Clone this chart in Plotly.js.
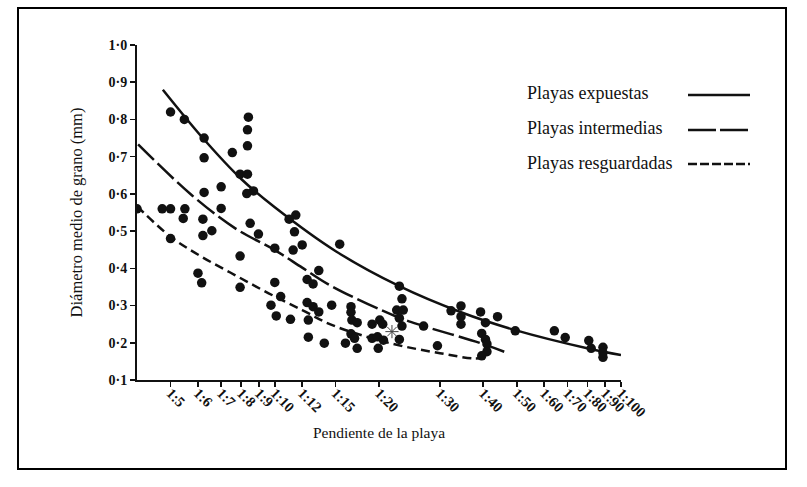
<!DOCTYPE html>
<html>
<head>
<meta charset="utf-8">
<script src="https://cdn.plot.ly/plotly-3.0.1.min.js"></script>
<style>html,body{margin:0;padding:0;background:#fff;}#chart{width:807px;height:487px;}</style>
</head>
<body>
<div id="chart"></div>
<script>
// Beach slope (1:x) vs mean grain diameter (mm)
const pointsX = [4.0, 4.73, 5.0, 5.0, 5.0, 5.48, 5.5, 5.44, 6.0, 6.15, 6.2, 6.2, 6.25, 6.25, 6.25, 6.58, 7.0, 7.0, 7.54, 7.94,
  8.34, 8.39, 8.34, 8.34, 8.3, 8.68, 7.94, 7.94, 8.49, 8.97, 10.0, 10.0, 10.4, 9.75, 10.1, 11.1, 11.5, 11.0, 11.4, 11.3,
  12.0, 12.4, 12.9, 13.4, 12.4, 12.9, 12.5, 13.4, 12.5, 13.9, 14.6, 15.4, 16.6, 16.6, 16.7, 17.3, 16.6, 17.0, 16.0, 17.3,
  19.1, 20.1, 20.5, 19.1, 19.8, 19.9, 20.6, 22.9, 23.3, 22.5, 23.5, 22.9, 23.3, 22.9, 26.9, 29.5, 32.3, 34.5, 34.5, 34.5,
  39.3, 40.6, 44, 39.6, 40.6, 41, 41, 39.6, 49.5, 64.2, 69, 80.7, 82, 88.7, 88.7, 88.7];
const pointsY = [0.56, 0.56, 0.56, 0.82, 0.48, 0.80, 0.56, 0.534, 0.387, 0.361, 0.532, 0.488, 0.75, 0.697, 0.604, 0.501, 0.619, 0.561, 0.711, 0.653,
  0.653, 0.806, 0.772, 0.729, 0.601, 0.608, 0.433, 0.349, 0.521, 0.492, 0.454, 0.362, 0.324, 0.301, 0.272, 0.263, 0.543, 0.532, 0.498, 0.449,
  0.463, 0.37, 0.358, 0.394, 0.308, 0.297, 0.261, 0.283, 0.215, 0.199, 0.301, 0.465, 0.297, 0.282, 0.261, 0.254, 0.224, 0.212, 0.199, 0.185,
  0.25, 0.261, 0.25, 0.212, 0.216, 0.185, 0.207, 0.352, 0.318, 0.288, 0.288, 0.266, 0.245, 0.209, 0.245, 0.192, 0.286, 0.299, 0.270, 0.25,
  0.283, 0.254, 0.270, 0.225, 0.209, 0.197, 0.176, 0.165, 0.232, 0.232, 0.214, 0.206, 0.185, 0.188, 0.173, 0.161];
const starX = [21.8];
const starY = [0.23];

const expuestasX = [4.75, 6.25, 8, 10, 15, 22.9, 34.5, 49.5, 81, 100];
const expuestasY = [0.88, 0.746, 0.64, 0.564, 0.446, 0.352, 0.282, 0.234, 0.184, 0.167];
const intermediasX = [4.03, 5.75, 7.67, 10, 12, 14.6, 22.5, 26.9, 39.3, 46];
const intermediasY = [0.733, 0.597, 0.508, 0.449, 0.402, 0.352, 0.27, 0.245, 0.199, 0.176];
const resguardadasX = [4.0, 5.0, 6.15, 7.67, 9.6, 12.0, 14.6, 21.5, 30, 37.5, 40.5];
const resguardadasY = [0.567, 0.485, 0.431, 0.382, 0.333, 0.288, 0.248, 0.199, 0.172, 0.158, 0.16];

const seriesNames = ["Playas expuestas", "Playas intermedias", "Playas resguardadas"];
const xTickVals = [5, 6, 7, 8, 9, 10, 12, 15, 20, 30, 40, 50, 60, 70, 80, 90, 100];
const xTickText = ["1:5", "1:6", "1:7", "1:8", "1:9", "1:10", "1:12", "1:15", "1:20", "1:30", "1:40", "1:50", "1:60", "1:70", "1:80", "1:90", "1:100"];
const yTickVals = [0.1, 0.2, 0.3, 0.4, 0.5, 0.6, 0.7, 0.8, 0.9, 1.0];
const yTickText = ["0·1", "0·2", "0·3", "0·4", "0·5", "0·6", "0·7", "0·8", "0·9", "1·0"];

const serif = "Liberation Serif, Times New Roman, serif";
const ink = "#111";

const traces = [
  {x: expuestasX, y: expuestasY, mode: "lines", name: seriesNames[0], line: {color: ink, width: 2.5, shape: "spline", dash: "solid"}, hoverinfo: "skip"},
  {x: intermediasX, y: intermediasY, mode: "lines", name: seriesNames[1], line: {color: ink, width: 2.5, shape: "spline", dash: "22px,5px"}, hoverinfo: "skip"},
  {x: resguardadasX, y: resguardadasY, mode: "lines", name: seriesNames[2], line: {color: ink, width: 2.5, shape: "spline", dash: "9px,5px"}, hoverinfo: "skip"},
  {x: pointsX, y: pointsY, mode: "markers", name: "Playas", marker: {color: ink, size: 9.5, symbol: "circle"}},
  {x: starX, y: starY, mode: "markers", name: "*", marker: {color: "#444", size: 11, symbol: "asterisk-open", line: {color: "#444", width: 1}}}
];

const lx0 = (688 - 137) / 484, lx1 = (750 - 137) / 484;
const legY = [(380 - 95) / 335, (380 - 130) / 335, (380 - 164) / 335];
const shapes = [
  {type: "rect", xref: "paper", yref: "paper", x0: (18 - 137) / 484, x1: (786 - 137) / 484, y0: (380 - 469) / 335, y1: (380 - 8) / 335, line: {color: "#000", width: 2}},
  {type: "line", xref: "paper", yref: "paper", x0: lx0, x1: lx1, y0: legY[0], y1: legY[0], line: {color: ink, width: 2.5}},
  {type: "line", xref: "paper", yref: "paper", x0: lx0, x1: lx1, y0: legY[1], y1: legY[1], line: {color: ink, width: 2.5, dash: "28px,4px"}},
  {type: "line", xref: "paper", yref: "paper", x0: lx0, x1: lx1, y0: legY[2], y1: legY[2], line: {color: ink, width: 2.5, dash: "9px,3px"}}
];
const annotations = seriesNames.map((t, i) => ({
  text: t, xref: "paper", yref: "paper", x: (525 - 137) / 484, y: (380 - [93, 128, 163][i]) / 335,
  xanchor: "left", yanchor: "middle", showarrow: false, font: {family: serif, size: 18, color: ink}
}));

const layout = {
  width: 807, height: 487,
  margin: {l: 137, r: 186, t: 45, b: 107},
  paper_bgcolor: "#fff", plot_bgcolor: "#fff",
  showlegend: false,
  xaxis: {
    type: "log", range: [Math.log10(4), 2],
    tickvals: xTickVals, ticktext: xTickText, tickangle: 45,
    ticks: "outside", ticklen: 5, tickwidth: 1.5, tickcolor: ink,
    ticklabelstandoff: -8,
    showline: true, linewidth: 2, linecolor: ink, showgrid: false, zeroline: false,
    tickfont: {family: serif, size: 14.5, color: ink, weight: "bold"},
    title: {text: "Pendiente de la playa", font: {family: serif, size: 15.5, color: ink}, standoff: 8}
  },
  yaxis: {
    range: [0.1, 1.0],
    tickvals: yTickVals, ticktext: yTickText,
    ticks: "outside", ticklen: 5, tickwidth: 1.5, tickcolor: ink,
    showline: true, linewidth: 2, linecolor: ink, showgrid: false, zeroline: false,
    tickfont: {family: serif, size: 14, color: ink, weight: "bold"},
    title: {text: "Diámetro medio de grano (mm)", font: {family: serif, size: 16.5, color: ink}, standoff: 22}
  },
  shapes: shapes,
  annotations: annotations
};

Plotly.newPlot("chart", traces, layout, {displayModeBar: false, staticPlot: true});
</script>
</body>
</html>
